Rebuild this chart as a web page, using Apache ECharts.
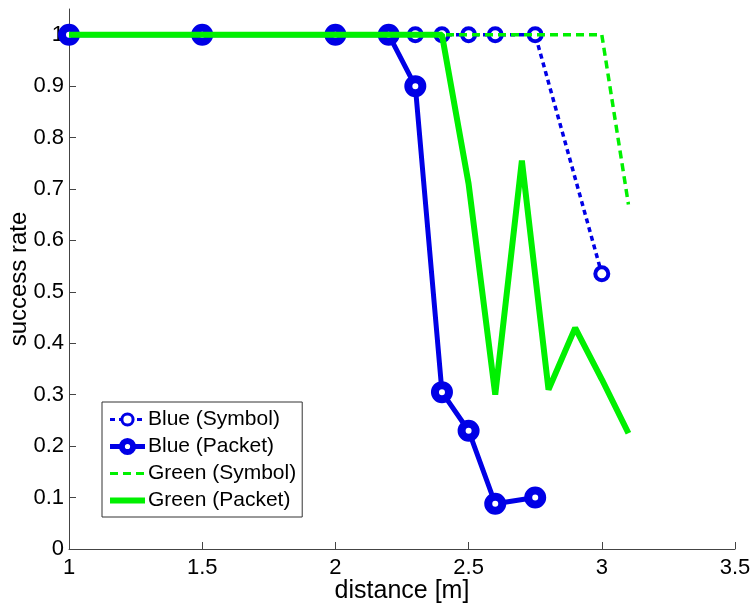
<!DOCTYPE html>
<html lang="en">
<head>
<meta charset="UTF-8">
<title>success rate vs distance</title>
<script src="https://cdn.jsdelivr.net/npm/echarts@6/dist/echarts.min.js"></script>
<style>
    html, body { margin: 0; padding: 0; background: #fff; }
    #chart { width: 751px; height: 603px; }
</style>
</head>
<body>
<div id="chart"></div>
<script>
    // data
    var xBlueSymbol = [1, 1.5, 2, 2.2, 2.3, 2.4, 2.5, 2.6, 2.75, 3];
    var blueSymbol = [1, 1, 1, 1, 1, 1, 1, 1, 1, 0.535];
    var xBluePacket = [1, 1.5, 2, 2.2, 2.3, 2.4, 2.5, 2.6, 2.75];
    var bluePacket = [1, 1, 1, 1, 0.9, 0.305, 0.23, 0.088, 0.1];
    var xGreen = [1, 1.5, 2, 2.2, 2.3, 2.4, 2.5, 2.6, 2.7, 2.8, 2.9, 3, 3.1];
    var greenSymbol = [1, 1, 1, 1, 1, 1, 1, 1, 1, 1, 1, 1, 0.67];
    var greenPacket = [1, 1, 1, 1, 1, 1, 0.71, 0.3, 0.755, 0.31, 0.43, 0.33, 0.225];
    var yTicks = [0, 0.1, 0.2, 0.3, 0.4, 0.5, 0.6, 0.7, 0.8, 0.9, 1];

    var BLUE = '#0000e6';
    var GREEN = '#00f000';
    var FONT = 'Liberation Sans';

    function pairs(xs, ys) {
        return xs.map(function (x, i) { return [x, ys[i]]; });
    }

    var chart = echarts.init(document.getElementById('chart'));

    var option = {
        animation: false,
        textStyle: { fontFamily: FONT },
        grid: { left: 69, right: 16, top: 9, bottom: 54, outerBoundsMode: 'none', containLabel: false },
        legend: {
            left: 102,
            top: 402,
            orient: 'vertical',
            itemWidth: 35,
            itemHeight: 14,
            itemGap: 6,
            padding: [7, 6, 6, 5],
            backgroundColor: '#fff',
            borderColor: '#333',
            borderWidth: 1,
            borderRadius: 0,
            textStyle: { fontFamily: FONT, fontSize: 21, color: '#000', padding: [0, 0, 0, -2] },
            data: [
                { name: 'Blue (Symbol)', lineStyle: { width: 3 }, itemStyle: { borderWidth: 3 } },
                { name: 'Blue (Packet)', lineStyle: { width: 5 }, itemStyle: { borderWidth: 6 } },
                { name: 'Green (Symbol)', lineStyle: { width: 3, type: [8, 5] }, itemStyle: { opacity: 0 } },
                { name: 'Green (Packet)', lineStyle: { width: 6 }, itemStyle: { opacity: 0 } }
            ]
        },
        xAxis: {
            type: 'value',
            min: 1,
            max: 3.5,
            interval: 0.5,
            name: 'distance [m]',
            nameLocation: 'middle',
            nameGap: 30,
            nameMoveOverlap: false,
            nameTextStyle: { fontFamily: FONT, fontSize: 25, color: '#000' },
            axisLine: { lineStyle: { color: '#444', width: 1 } },
            axisTick: { inside: true, length: 7, lineStyle: { color: '#444' } },
            axisLabel: { fontFamily: FONT, fontSize: 22, color: '#000', margin: 8 },
            splitLine: { show: false }
        },
        yAxis: {
            type: 'value',
            min: 0,
            max: 1.05,
            name: 'success rate',
            nameLocation: 'middle',
            nameGap: 38,
            nameMoveOverlap: false,
            nameTextStyle: { fontFamily: FONT, fontSize: 24, color: '#000' },
            axisLine: { show: true, lineStyle: { color: '#444', width: 1 } },
            axisTick: { show: true, inside: true, length: 7, customValues: yTicks, lineStyle: { color: '#444' } },
            axisLabel: { fontFamily: FONT, fontSize: 22, color: '#000', margin: 5, customValues: yTicks },
            splitLine: { show: false }
        },
        series: [
            {
                name: 'Blue (Symbol)',
                type: 'line',
                data: pairs(xBlueSymbol, blueSymbol),
                color: BLUE,
                symbol: 'circle',
                symbolSize: 13,
                itemStyle: { color: '#fff', borderColor: BLUE, borderWidth: 4 },
                lineStyle: { color: BLUE, width: 3.5, type: [5, 4] }
            },
            {
                name: 'Blue (Packet)',
                type: 'line',
                data: pairs(xBluePacket, bluePacket),
                color: BLUE,
                symbol: 'circle',
                symbolSize: 14,
                itemStyle: { color: '#fff', borderColor: BLUE, borderWidth: 8 },
                lineStyle: { color: BLUE, width: 5 }
            },
            {
                name: 'Green (Symbol)',
                type: 'line',
                zlevel: 1,
                data: pairs(xGreen, greenSymbol),
                color: GREEN,
                symbol: 'none',
                lineStyle: { color: GREEN, width: 3.5, type: [8, 5] }
            },
            {
                name: 'Green (Packet)',
                type: 'line',
                zlevel: 1,
                data: pairs(xGreen, greenPacket),
                color: GREEN,
                symbol: 'none',
                lineStyle: { color: GREEN, width: 6 }
            }
        ]
    };

    chart.setOption(option);
</script>
</body>
</html>
